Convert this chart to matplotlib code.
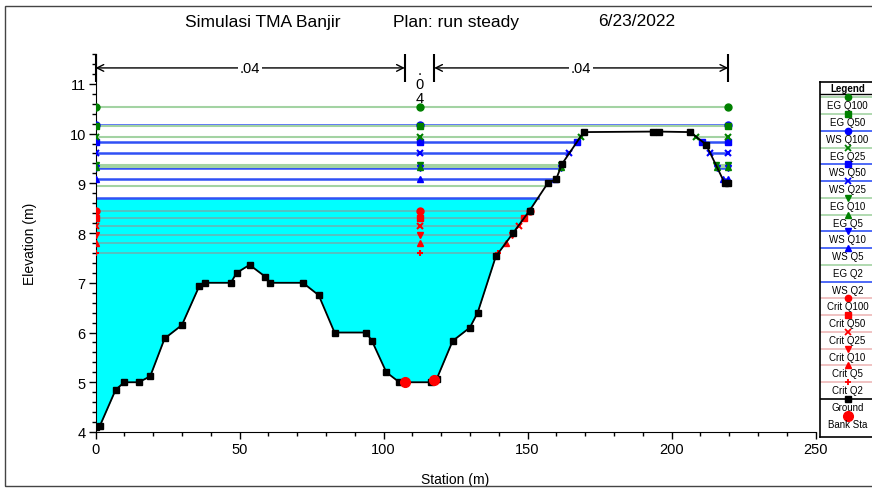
import numpy as np
import matplotlib.pyplot as plt
from matplotlib.patches import Rectangle

plt.rcParams['font.family'] = ['Liberation Sans', 'DejaVu Sans']

# cross section geometry (station m, elevation m)
station = [0, 1.5, 7, 10, 15, 19, 24, 30, 36, 38, 47, 49, 53.5, 59, 60.5, 72, 77.5, 83,
           94, 96, 101, 105.5, 116.5, 118.5, 124, 130, 132.7, 139, 145, 150.7, 157, 160,
           162, 169.5, 193.5, 195.5, 206.5, 212, 218.5, 219.7]
ground = [4.1, 4.12, 4.85, 5.0, 5.0, 5.12, 5.88, 6.15, 6.93, 7.0, 7.0, 7.2, 7.36, 7.12, 7.0,
          7.0, 6.75, 6.0, 6.0, 5.83, 5.2, 5.0, 5.0, 5.07, 5.83, 6.1, 6.4, 7.53, 8.0, 8.45,
          9.0, 9.09, 9.39, 10.03, 10.04, 10.04, 10.03, 9.78, 9.0, 9.0]
bank_sta = [107.4, 117.6]
n_values = ['.04', '.04', '.04']

profiles = ['Q100', 'Q50', 'Q25', 'Q10', 'Q5', 'Q2']
ws_elev = [10.18, 9.84, 9.60, 9.31, 9.08, 8.71]
eg_elev = [10.53, 10.15, 9.94, 9.36, 9.33, 8.94]
crit_elev = [8.45, 8.30, 8.15, 7.96, 7.80, 7.59]
prof_marker = ['o', 's', 'x', 'v', '^', None]
crit_marker = ['o', 's', 'x', 'v', '^', '+']

legend_order = ['EG Q100', 'EG Q50', 'WS Q100', 'EG Q25', 'WS Q50', 'WS Q25', 'EG Q10',
                'EG Q5', 'WS Q10', 'WS Q5', 'EG Q2', 'WS Q2', 'Crit Q100', 'Crit Q50',
                'Crit Q25', 'Crit Q10', 'Crit Q5', 'Crit Q2', 'Ground', 'Bank Sta']

EG_LINE, EG_MK = '#a3d3a3', '#008000'
WS_LINE, WS_MK = '#3050f5', '#0000ff'
CR_LINE, CR_MK = '#d86060', '#ff0000'
CR_ALPHA = 0.45


def wet_parts(level):
    x = np.array(station, float)
    z = np.array(ground, float)
    parts, cur = [], None
    for i in range(len(x)):
        if z[i] < level:
            if cur is None:
                if i == 0:
                    cur = [[x[0]], [z[0]]]
                else:
                    xc = x[i-1] + (level - z[i-1]) / (z[i] - z[i-1]) * (x[i] - x[i-1])
                    cur = [[xc], [level]]
            cur[0].append(x[i]); cur[1].append(z[i])
        elif cur is not None:
            xc = x[i-1] + (level - z[i-1]) / (z[i] - z[i-1]) * (x[i] - x[i-1])
            cur[0].append(xc); cur[1].append(level)
            parts.append(cur); cur = None
    if cur is not None:
        parts.append(cur)
    return parts


fig = plt.figure(figsize=(8.72, 4.89), dpi=100)
ax = fig.add_axes([95.5/872, 56/489, 720/872, 378/489])

mid = sum(bank_sta) / 2

# water fill for lowest profile
for xs, zs in wet_parts(ws_elev[-1]):
    ax.fill_between(xs, zs, ws_elev[-1], color='#00ffff', lw=0, zorder=1)


def draw_level(level, lcolor, mcolor, marker, lw, alpha=1.0):
    for xs, zs in wet_parts(level):
        x0, x1 = xs[0], xs[-1]
        ax.plot([x0, x1], [level, level], color=lcolor, lw=lw, alpha=alpha, zorder=2)
        if marker:
            mx = [x0, x1] + ([mid] if x0 < mid < x1 else [])
            ax.plot(mx, [level]*len(mx), ls='none', marker=marker, color=mcolor,
                    ms=5, mew=1.5 if marker in 'x+' else 1, zorder=4)


for i in range(len(profiles)):
    draw_level(crit_elev[i], CR_LINE, CR_MK, crit_marker[i], 1.2, CR_ALPHA)
for i in range(len(profiles)):
    draw_level(eg_elev[i], EG_LINE, EG_MK, prof_marker[i], 1.5)
    draw_level(ws_elev[i], WS_LINE, WS_MK, prof_marker[i], 1.8)

ax.plot(station, ground, color='black', lw=1.3, marker='s', ms=5, zorder=5)
ax.plot(bank_sta, np.interp(bank_sta, station, ground), ls='none', marker='o',
        color='#ff0000', ms=7, zorder=6)

# n-value annotation
breaks = [station[0], bank_sta[0], bank_sta[1], station[-1]]
ax.vlines(breaks, 11.04, 11.6, color='black', lw=1.5, clip_on=False, zorder=6)
for k in range(3):
    a, b = breaks[k], breaks[k+1]
    if b - a > 30:
        ax.annotate('', xy=(b, 11.32), xytext=(a, 11.32),
                    arrowprops=dict(arrowstyle='<->', lw=1, color='black',
                                    shrinkA=0, shrinkB=0, mutation_scale=12),
                    annotation_clip=False)
        ax.text((a + b) / 2, 11.32, n_values[k], ha='center', va='center', fontsize=10.5,
                bbox=dict(facecolor='white', edgecolor='none', pad=1.5))
    else:
        ax.text((a + b) / 2, 11.42, '\n'.join(n_values[k]), ha='center', va='top',
                fontsize=10.5, linespacing=1.0)

ax.set_xlim(0, 250)
ax.set_ylim(4, 11.6)
ax.set_xticks(np.arange(0, 251, 50))
ax.set_xticks(np.arange(0, 251, 10), minor=True)
ax.set_yticks(np.arange(4, 12, 1))
ax.set_yticks(np.arange(4, 11.61, 0.2), minor=True)
ax.tick_params(which='major', length=5, width=1, labelsize=10.5, pad=2)
ax.tick_params(which='minor', length=3, width=1)
for s in ['top', 'right']:
    ax.spines[s].set_visible(False)
ax.set_xlabel('Station (m)', fontsize=10, labelpad=12)
ax.set_ylabel('Elevation (m)', fontsize=10, labelpad=23)

fig.text(185/872, 1 - 22/489, 'Simulasi TMA Banjir', fontsize=12.5, ha='left', va='center')
fig.text(393/872, 1 - 22/489, 'Plan: run steady', fontsize=12.5, ha='left', va='center')
fig.text(598/872, 1 - 22/489, '6/23/2022', fontsize=12.5, ha='left', va='center')

# outer frame
fig.patches.append(Rectangle((5/872, 2/489), 1.0, 480/489, transform=fig.transFigure,
                             fill=False, edgecolor='#444444', lw=1))

# legend box
lax = fig.add_axes([820/872, 51/489, 60/872, 355.3/489])
lax.set_xlim(820, 880)
lax.set_ylim(438, 82.7)
lax.set_xticks([]); lax.set_yticks([])
for s in lax.spines.values():
    s.set_linewidth(1.2)
lax.text(847.5, 88.5, 'Legend', ha='center', va='center', fontsize=7, fontweight='bold')
lax.axhline(95, color='black', lw=1)

styles = {'Ground': ('black', 's', 'black', 1.0), 'Bank Sta': (None, 'o', '#ff0000', 1.0)}
for i, p in enumerate(profiles):
    styles['EG ' + p] = (EG_LINE, prof_marker[i], EG_MK, 1.0)
    styles['WS ' + p] = (WS_LINE, prof_marker[i], WS_MK, 1.0)
    styles['Crit ' + p] = (CR_LINE, crit_marker[i], CR_MK, CR_ALPHA)

for j, name in enumerate(legend_order):
    y = 98.3 + j * 16.76
    lc, mk, mc, al = styles[name]
    if lc:
        lax.plot([820, 880], [y, y], color=lc, lw=1.2, alpha=al)
    if mk:
        lax.plot([847.5], [y], marker=mk, color=mc, ms=7 if name == 'Bank Sta' else 4.5,
                 mew=1.3 if mk in 'x+' else 1)
    lax.text(847.5, y + 8, name, ha='center', va='center', fontsize=7)

fig.savefig('out.png', dpi=100)
